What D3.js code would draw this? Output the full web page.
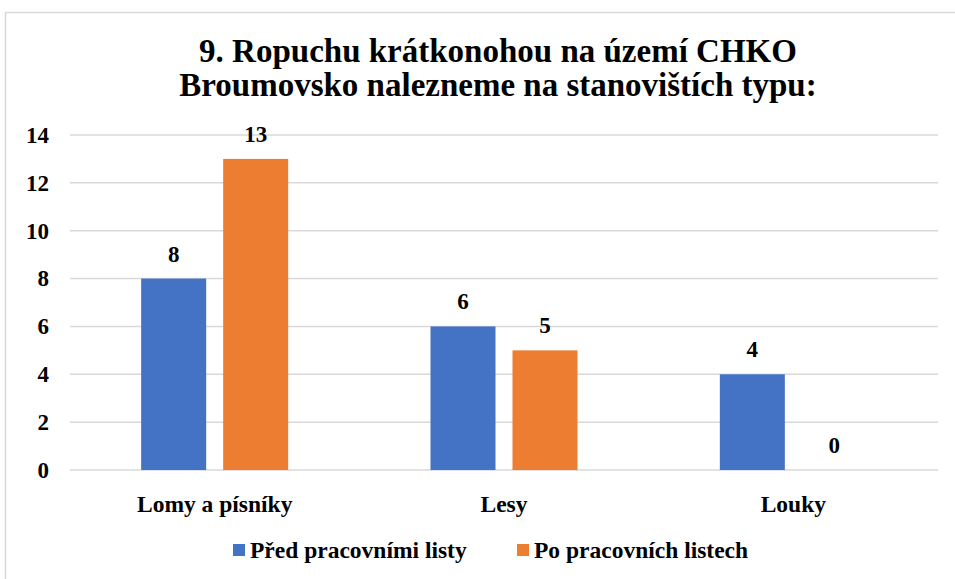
<!DOCTYPE html>
<html>
<head>
<meta charset="utf-8">
<script src="https://cdn.jsdelivr.net/npm/d3@7"></script>
<style>
  body { margin: 0; background: #fff; }
</style>
</head>
<body>
<svg id="chart"></svg>
<script>
const categories = ['Lomy a písníky', 'Lesy', 'Louky'];
const seriesNames = ['Před pracovními listy', 'Po pracovních listech'];
const before = [8, 6, 4];
const after = [13, 5, 0];
const yTicks = [0, 2, 4, 6, 8, 10, 12, 14];
const colors = ['#4472C4', '#ED7D31'];

const FONT = "'Liberation Serif', Tinos, 'Times New Roman', Times, 'DejaVu Serif', serif";

const W = 955, H = 579;
const margin = { top: 135, right: 17, bottom: 109, left: 70 };
const width = W - margin.left - margin.right;
const height = H - margin.top - margin.bottom;

const svg = d3.select('#chart').attr('width', W).attr('height', H);

// outer frame
svg.append('rect')
  .attr('x', 5.5).attr('y', 12.5)
  .attr('width', W).attr('height', H)
  .attr('fill', 'none').attr('stroke', '#d9d9d9').attr('stroke-width', 1.5);

svg.append('text')
  .attr('x', 498).attr('text-anchor', 'middle')
  .style('font-family', FONT).style('font-weight', 'bold')
  .attr('font-size', 33)
  .selectAll('tspan')
  .data(['9. Ropuchu krátkonohou na území CHKO', 'Broumovsko nalezneme na stanovištích typu:'])
  .enter().append('tspan')
  .attr('x', 498)
  .attr('y', (d, i) => 62 + i * 34)
  .text(d => d);

const g = svg.append('g').attr('transform', `translate(${margin.left},${margin.top})`);

const x0 = d3.scaleBand().domain(categories).range([0, width]);
const groupW = 147;
const x1 = d3.scaleBand().domain(seriesNames)
  .range([(x0.bandwidth() - groupW) / 2, (x0.bandwidth() + groupW) / 2])
  .paddingInner(17 / 82);

const y = d3.scaleLinear().domain([0, 14]).range([height, 0]);

// gridlines
g.append('g')
  .selectAll('line')
  .data(yTicks)
  .enter().append('line')
  .attr('x1', 0).attr('x2', width)
  .attr('y1', d => y(d)).attr('y2', d => y(d))
  .attr('stroke', '#d9d9d9').attr('stroke-width', 1.5);

const yAxis = g.append('g').call(d3.axisLeft(y).tickValues(yTicks).tickSize(0).tickPadding(21));
yAxis.select('.domain').remove();
yAxis.selectAll('text')
  .style('font-family', FONT).style('font-weight', 'bold')
  .attr('font-size', 23)
  .attr('fill', '#000');

const xAxis = g.append('g')
  .attr('transform', `translate(0,${height})`)
  .call(d3.axisBottom(x0).tickSize(0).tickPadding(25));
xAxis.select('.domain').remove();
xAxis.selectAll('text')
  .style('font-family', FONT).style('font-weight', 'bold')
  .attr('font-size', 23.5)
  .attr('fill', '#000');

const rows = categories.map((c, i) => ({ cat: c, vals: [before[i], after[i]] }));

const groups = g.selectAll('.grp')
  .data(rows)
  .enter().append('g')
  .attr('class', 'grp')
  .attr('transform', d => `translate(${x0(d.cat)},0)`);

const items = groups.selectAll('.item')
  .data(d => d.vals.map((v, j) => ({ s: seriesNames[j], v: v, j: j })))
  .enter();

items.append('rect')
  .attr('x', d => x1(d.s))
  .attr('y', d => y(d.v))
  .attr('width', x1.bandwidth())
  .attr('height', d => height - y(d.v))
  .attr('fill', d => colors[d.j]);

items.append('text')
  .attr('x', d => x1(d.s) + x1.bandwidth() / 2)
  .attr('y', d => y(d.v) - 17)
  .attr('text-anchor', 'middle')
  .style('font-family', FONT).style('font-weight', 'bold')
  .attr('font-size', 23)
  .text(d => d.v);

// legend
const legendX = [233, 517];
seriesNames.forEach((s, i) => {
  svg.append('rect')
    .attr('x', legendX[i]).attr('y', 544)
    .attr('width', 12).attr('height', 12)
    .attr('fill', colors[i]);
  svg.append('text')
    .attr('x', legendX[i] + 17).attr('y', 558)
    .style('font-family', FONT).style('font-weight', 'bold')
    .attr('font-size', 23.5)
    .text(s);
});
</script>
</body>
</html>
